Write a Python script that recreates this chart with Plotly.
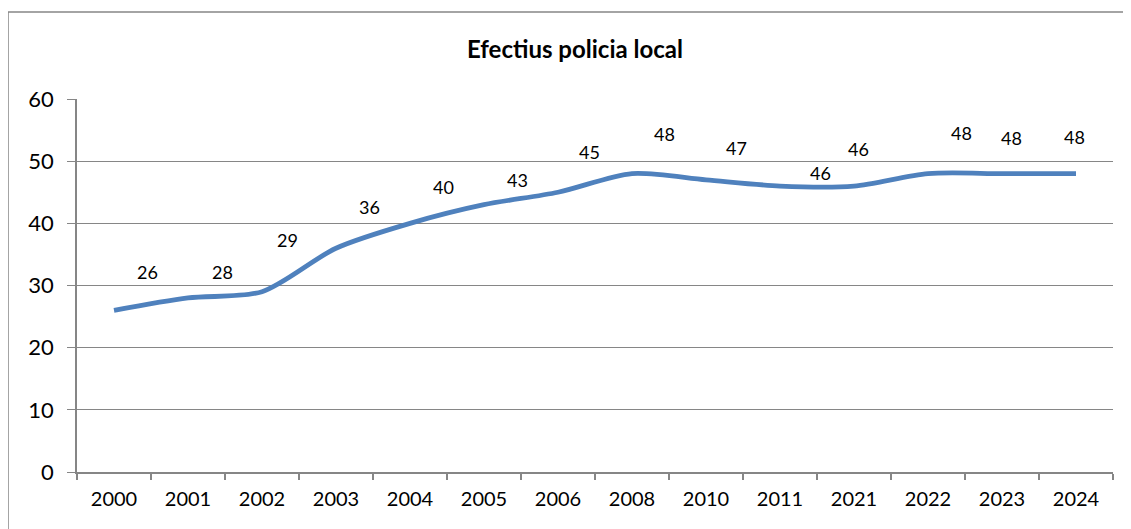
import plotly.graph_objects as go

years = ["2000", "2001", "2002", "2003", "2004", "2005", "2006", "2008",
         "2010", "2011", "2021", "2022", "2023", "2024"]
values = [26, 28, 29, 36, 40, 43, 45, 48, 47, 46, 46, 48, 48, 48]
y_ticks = [0, 10, 20, 30, 40, 50, 60]

# label offsets in pixels (style only)
label_dx = [33, 34, 25, 33, 33, 33, 31, 32, 30, 40, 4, 33, 9, -2]
label_dy = [-38, -26, -52, -41, -36, -25, -40, -40, -32, -13, -37, -41, -36, -37]

# page has an 8px body margin; figure coordinates are shifted accordingly
W, H = 1131, 529
L, T = 69, 91
R = W - 1105
B = H - 464
pw, ph = W - L - R, H - T - B

FONT = "Lato, Carlito, Calibri, sans-serif"
GRAY = "#868686"

fig = go.Figure()
fig.add_trace(go.Scatter(
    x=years, y=values, mode="lines",
    line=dict(color="#4F81BD", width=4.8, shape="spline", smoothing=0.8),
    hoverinfo="skip", showlegend=False,
))

annotations = []
for i, (v, dx, dy) in enumerate(zip(values, label_dx, label_dy)):
    annotations.append(dict(
        x=i, y=v, xref="x", yref="y", text=str(v), showarrow=True,
        arrowcolor="rgba(0,0,0,0)", ax=dx, ay=dy, arrowwidth=0.1,
        font=dict(family=FONT, size=18, color="#000000"),
    ))

px = lambda x: (x - L) / pw
py = lambda y: (H - B - y) / ph
shapes = [
    dict(type="line", xref="paper", yref="paper", x0=px(0), x1=px(0), y0=py(4), y1=py(540),
         line=dict(color=GRAY, width=1.5)),
    dict(type="line", xref="paper", yref="paper", x0=px(0), x1=px(1140), y0=py(4), y1=py(4),
         line=dict(color=GRAY, width=1.5)),
]

fig.update_layout(
    width=W, height=H,
    margin=dict(l=L, r=R, t=T, b=B),
    paper_bgcolor="white", plot_bgcolor="white",
    title=dict(text="<b>Efectius policia local</b>", x=567 / W, xanchor="center",
               y=1 - 42 / H, yanchor="middle", xref="container", yref="container",
               font=dict(family=FONT, size=24, color="#000000")),
    annotations=annotations,
    shapes=shapes,
    xaxis=dict(
        type="category", categoryorder="array", categoryarray=years,
        range=[-0.5, len(years) - 0.5],
        showline=True, linecolor=GRAY, linewidth=1.5,
        showgrid=False, zeroline=False,
        ticks="outside", tickson="boundaries", ticklen=6, tickcolor=GRAY, tickwidth=1.5,
        tickfont=dict(family=FONT, size=20, color="#000000"),
        ticklabelstandoff=8,
    ),
    yaxis=dict(
        range=[0, 60], tickvals=y_ticks,
        showline=True, linecolor=GRAY, linewidth=1.5,
        showgrid=True, gridcolor=GRAY, gridwidth=1.2, zeroline=False,
        ticks="outside", ticklen=8, tickcolor=GRAY, tickwidth=1.2,
        tickfont=dict(family=FONT, size=22, color="#000000"),
        ticklabelstandoff=9,
    ),
)

fig.write_html("out.html")
